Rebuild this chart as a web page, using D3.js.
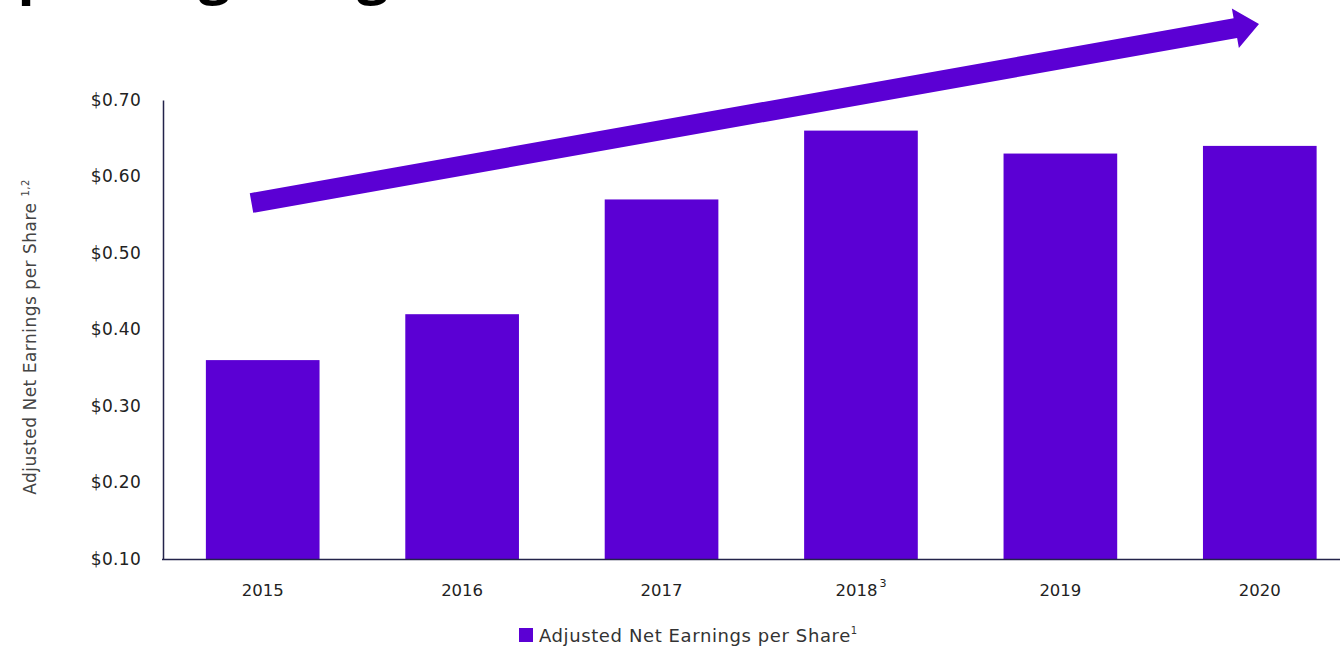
<!DOCTYPE html>
<html>
<head>
<meta charset="utf-8">
<script src="https://cdn.jsdelivr.net/npm/d3@7"></script>
<style>
  html, body { margin: 0; padding: 0; background: #ffffff; overflow: hidden; }
  svg { display: block; font-family: "DejaVu Sans", "Open Sans", sans-serif; }
</style>
</head>
<body>
<svg id="chart" width="1340" height="647"></svg>
<script>
// ---- data ----
const categories = ["2015", "2016", "2017", "2018", "2019", "2020"];
const categorySuperscripts = ["", "", "", "3", "", ""];
const values = [0.36, 0.42, 0.57, 0.66, 0.63, 0.64];
const yTicks = [0.10, 0.20, 0.30, 0.40, 0.50, 0.60, 0.70];
const seriesName = "Adjusted Net Earnings per Share";
const yAxisTitle = "Adjusted Net Earnings per Share";
const titleText = "Improving Margins";

const barColor = "#5B00D4";
const svg = d3.select("#chart");
const W = 1340, H = 647;

const x = d3.scaleBand()
  .domain(categories)
  .range([163, 1359.5])
  .paddingInner(0.43)
  .paddingOuter(0.215);

const y = d3.scaleLinear()
  .domain([0.10, 0.70])
  .range([559, 100]);

// title (cut off at top of slide, as in the reference)
svg.append("text")
  .attr("x", -56)
  .attr("y", -7)
  .attr("font-size", 56)
  .attr("font-weight", 700)
  .attr("font-family", "\"Open Sans\", sans-serif")
  .attr("fill", "#000")
  .text(titleText);

// bars
svg.append("g").selectAll("rect")
  .data(values)
  .join("rect")
  .attr("x", (d, i) => x(categories[i]))
  .attr("y", d => y(d))
  .attr("width", x.bandwidth())
  .attr("height", d => y(0.10) - y(d))
  .attr("fill", barColor);

// y axis
const yAxis = d3.axisLeft(y)
  .tickValues(yTicks)
  .tickSize(0)
  .tickPadding(22)
  .tickFormat(d => "$" + d3.format(".2f")(d));
const gy = svg.append("g").attr("transform", "translate(163,0)").call(yAxis);
gy.select(".domain").attr("stroke", "#23234a").attr("stroke-width", 1.5);
gy.selectAll("text").attr("font-size", 17).attr("fill", "#222")
  .attr("letter-spacing", 0.3)
  .attr("font-family", "\"DejaVu Sans\", sans-serif");

// x axis
const xAxis = d3.axisBottom(x).tickSize(0).tickPadding(0).tickFormat("");
const gx = svg.append("g").attr("transform", "translate(0,559)").call(xAxis);
gx.select(".domain").remove();
svg.append("line")
  .attr("x1", 162).attr("x2", W)
  .attr("y1", 559.5).attr("y2", 559.5)
  .attr("stroke", "#23234a").attr("stroke-width", 1.5);

// x tick labels (with superscripts)
const xl = svg.append("g").selectAll("text")
  .data(categories)
  .join("text")
  .attr("x", d => x(d) + x.bandwidth() / 2)
  .attr("y", 596)
  .attr("text-anchor", "middle")
  .attr("font-size", 16.5)
  .attr("fill", "#222");
xl.append("tspan").text(d => d);
xl.filter((d, i) => categorySuperscripts[i] !== "")
  .append("tspan")
  .attr("dy", -9)
  .attr("dx", 2)
  .attr("font-size", 11)
  .text(d => categorySuperscripts[categories.indexOf(d)]);

// y axis title
const yt = svg.append("text")
  .attr("transform", "translate(36,337) rotate(-90)")
  .attr("text-anchor", "middle")
  .attr("font-size", 17)
  .attr("letter-spacing", 0.5)
  .attr("fill", "#444");
yt.append("tspan").text(yAxisTitle + " ");
yt.append("tspan").attr("dy", -7).attr("font-size", 10).text("1,2");

// legend
const lg = svg.append("g").attr("transform", "translate(519,628)");
lg.append("rect").attr("width", 14).attr("height", 14).attr("fill", barColor);
const lt = lg.append("text").attr("x", 20).attr("y", 14)
  .attr("font-size", 18).attr("letter-spacing", 0.6).attr("fill", "#333");
lt.append("tspan").text(seriesName);
lt.append("tspan").attr("dy", -8).attr("font-size", 10).text("1");

// trend arrow (annotation)
const start = [251.5, 203], tip = [1259, 24];
const dx = tip[0] - start[0], dy = tip[1] - start[1];
const L = Math.hypot(dx, dy);
const ang = Math.atan2(dy, dx) * 180 / Math.PI;
const sw = 10, hw = 20, hl = 24;
const pts = [[0, -sw], [L - hl, -sw], [L - hl, -hw], [L, 0], [L - hl, hw], [L - hl, sw], [0, sw]];
svg.append("polygon")
  .attr("transform", `translate(${start[0]},${start[1]}) rotate(${ang})`)
  .attr("points", pts.map(p => p.join(",")).join(" "))
  .attr("fill", barColor);
</script>
</body>
</html>
